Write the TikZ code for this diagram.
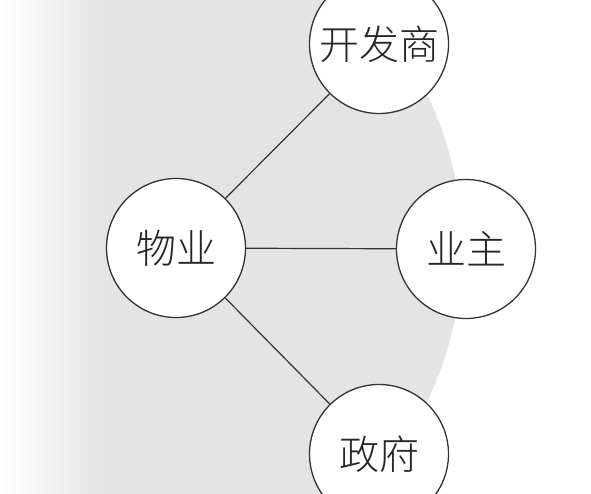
\documentclass[tikz,border=0pt]{standalone}
\usepackage{fontspec}
\newfontfamily\cjk{Noto Sans CJK SC Light}
\definecolor{bggray}{HTML}{E4E4E4}
\definecolor{linegray}{HTML}{333333}
\tikzset{
  actor/.style={circle, draw=linegray, line width=1.3pt, fill=white, minimum size=139pt, inner sep=0pt, font=\cjk\fontsize{40}{40}\selectfont, text=black!85},
  link/.style={draw=linegray, line width=1.2pt}
}
\begin{document}
\begin{tikzpicture}[x=1pt,y=1pt]
\useasboundingbox (0,0) rectangle (591,-494);
\begin{scope}
\clip (0,0) rectangle (591,-494);
\fill[white] (0,0) rectangle (591,-494);
\fill[bggray] (107,-248) circle[radius=355];
\shade[left color=white, right color=bggray] (0,0) rectangle (105,-494);
\end{scope}
\node[actor] (wy) at (176,-248) {物业};
\node[actor] (kfs) at (379,-44) {开发商};
\node[actor] (yz) at (466,-249) {业主};
\node[actor] (zf) at (379,-454) {政府};
\draw[link] (wy) -- (kfs);
\draw[link] (wy) -- (yz);
\draw[link] (wy) -- (zf);
\end{tikzpicture}
\end{document}
